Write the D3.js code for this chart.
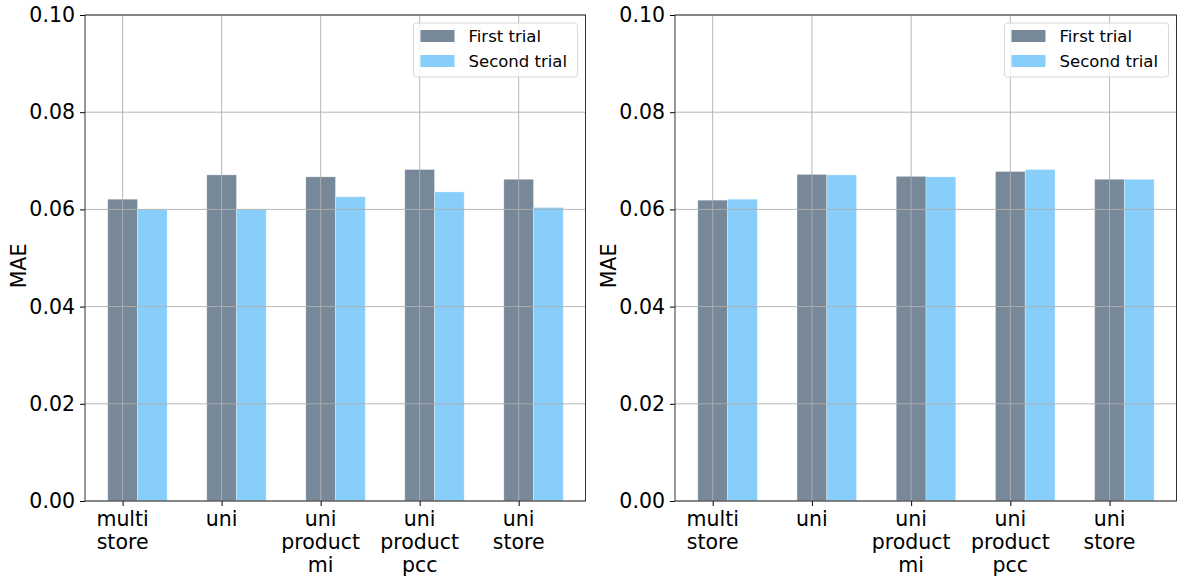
<!DOCTYPE html>
<html>
<head>
<meta charset="utf-8">
<script src="https://cdn.jsdelivr.net/npm/d3@7"></script>
<style>
  body { margin: 0; background: #fff; }
  text { font-family: "DejaVu Sans", sans-serif; fill: #000; }
</style>
</head>
<body>
<svg width="1184" height="582"></svg>
<script>
const categories = [["multi", "store"], ["uni"], ["uni", "product", "mi"], ["uni", "product", "pcc"], ["uni", "store"]];
const seriesNames = ["First trial", "Second trial"];
const colors = ["#778899", "#87cefa"];
const leftFirst = [0.0621, 0.0671, 0.0667, 0.0682, 0.0662];
const leftSecond = [0.0600, 0.0600, 0.0626, 0.0636, 0.0604];
const rightFirst = [0.0619, 0.0672, 0.0668, 0.0678, 0.0662];
const rightSecond = [0.0621, 0.0671, 0.0667, 0.0682, 0.0662];
const yTicks = [0, 0.02, 0.04, 0.06, 0.08, 0.10];

const svg = d3.select("svg");

function drawPanel(left, right, first, second) {
    const top = 15, bottom = 501;
    const barW = 0.3;
    const x = d3.scaleLinear().domain([-0.38, 4.675]).range([left, right]);
    const y = d3.scaleLinear().domain([0, 0.1]).range([bottom, top]);
    const g = svg.append("g");

    // bars
    const series = [first, second];
    series.forEach((vals, s) => {
        g.selectAll(null).data(vals).enter().append("rect")
            .attr("x", (d, i) => x(i + s * barW - barW / 2))
            .attr("width", x(barW) - x(0))
            .attr("y", d => y(d))
            .attr("height", d => y(0) - y(d))
            .attr("fill", colors[s])
            .attr("stroke", "#ffffff")
            .attr("stroke-opacity", 0.4)
            .attr("stroke-width", 0.8);
    });

    // grid on top of bars
    g.selectAll(null).data(yTicks).enter().append("line")
        .attr("x1", left).attr("x2", right)
        .attr("y1", d => y(d)).attr("y2", d => y(d))
        .attr("stroke", "#b0b0b0").attr("stroke-width", 1).attr("opacity", 0.9);
    g.selectAll(null).data(d3.range(categories.length)).enter().append("line")
        .attr("x1", d => x(d)).attr("x2", d => x(d))
        .attr("y1", top).attr("y2", bottom)
        .attr("stroke", "#b0b0b0").attr("stroke-width", 1).attr("opacity", 0.9);

    // axes
    const yAxis = d3.axisLeft(y).tickValues(yTicks).tickFormat(d3.format(".2f")).tickSize(5).tickPadding(5);
    const ya = g.append("g").attr("transform", `translate(${left},0)`).call(yAxis);
    ya.select(".domain").remove();
    ya.selectAll("text").style("font-size", "20.5px");

    const xAxis = d3.axisBottom(x).tickValues(d3.range(categories.length)).tickFormat("").tickSize(5);
    const xa = g.append("g").attr("transform", `translate(0,${bottom})`).call(xAxis);
    xa.select(".domain").remove();

    categories.forEach((lines, i) => {
        const t = g.append("text")
            .attr("text-anchor", "middle")
            .attr("x", x(i))
            .attr("y", bottom + 25)
            .style("font-size", "20.5px");
        lines.forEach((ln, k) => {
            t.append("tspan").attr("x", x(i)).attr("dy", k === 0 ? 0 : 23).text(ln);
        });
    });

    // spines
    g.append("rect")
        .attr("x", left).attr("y", top)
        .attr("width", right - left).attr("height", bottom - top)
        .attr("fill", "none").attr("stroke", "#333").attr("stroke-width", 1);

    // y label
    g.append("text")
        .attr("transform", `translate(${left - 59},${(top + bottom) / 2 + 8}) rotate(-90)`)
        .attr("text-anchor", "middle")
        .style("font-size", "20.5px")
        .text("MAE");

    // legend
    const lg = g.append("g").attr("transform", `translate(${right - 172},${top + 8})`);
    lg.append("rect").attr("width", 164).attr("height", 54).attr("rx", 3)
        .attr("fill", "#fff").attr("fill-opacity", 0.8)
        .attr("stroke", "#d9d9d9").attr("stroke-width", 1);
    seriesNames.forEach((name, s) => {
        lg.append("rect").attr("x", 7).attr("y", 7 + s * 25).attr("width", 34).attr("height", 12)
            .attr("fill", colors[s]);
        lg.append("text").attr("x", 55).attr("y", 19 + s * 25).style("font-size", "16.5px").text(name);
    });
}

drawPanel(85, 585.5, leftFirst, leftSecond);
drawPanel(675, 1176.5, rightFirst, rightSecond);
</script>
</body>
</html>
